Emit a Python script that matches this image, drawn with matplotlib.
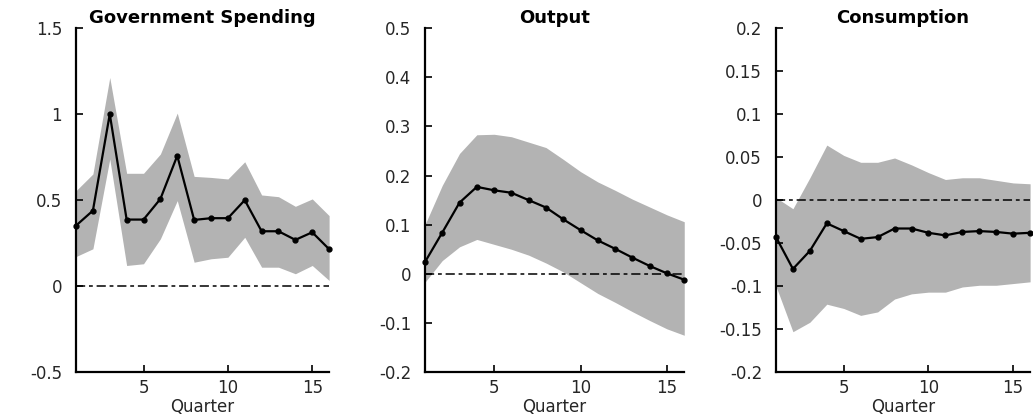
import numpy as np
import matplotlib
matplotlib.use('Agg')
import matplotlib.pyplot as plt
from matplotlib.ticker import FormatStrFormatter

## --- Data
quarters = [1, 2, 3, 4, 5, 6, 7, 8, 9, 10, 11, 12, 13, 14, 15, 16]

# Government spending
gov_mid = [0.352, 0.439, 1.000, 0.387, 0.387, 0.507, 0.758, 0.385,
           0.395, 0.395, 0.500, 0.319, 0.319, 0.269, 0.313, 0.215]
gov_hi = [0.555, 0.652, 1.213, 0.656, 0.656, 0.768, 1.006, 0.638,
          0.632, 0.623, 0.723, 0.530, 0.520, 0.464, 0.507, 0.410]
gov_lo = [0.172, 0.217, 0.739, 0.120, 0.130, 0.275, 0.497, 0.139,
          0.159, 0.168, 0.284, 0.110, 0.110, 0.072, 0.120, 0.033]

# Output
out_mid = [0.024, 0.084, 0.145, 0.177, 0.170, 0.165, 0.150, 0.135,
           0.111, 0.089, 0.068, 0.051, 0.033, 0.016, 0.001, -0.012]
out_hi = [0.100, 0.180, 0.245, 0.283, 0.284, 0.279, 0.268, 0.257,
          0.233, 0.208, 0.187, 0.170, 0.152, 0.136, 0.120, 0.106]
out_lo = [-0.017, 0.027, 0.055, 0.070, 0.060, 0.050, 0.038, 0.022,
          0.004, -0.018, -0.040, -0.058, -0.077, -0.095, -0.112, -0.125]

# Consumption
con_mid = [-0.043, -0.080, -0.059, -0.027, -0.036, -0.045, -0.043, -0.033,
           -0.033, -0.038, -0.041, -0.037, -0.036, -0.037, -0.039, -0.038]
con_hi = [0.003, -0.010, 0.026, 0.064, 0.052, 0.044, 0.044, 0.049,
          0.041, 0.032, 0.024, 0.026, 0.026, 0.023, 0.020, 0.019]
con_lo = [-0.100, -0.153, -0.142, -0.121, -0.126, -0.134, -0.130, -0.115,
          -0.109, -0.107, -0.107, -0.101, -0.099, -0.099, -0.097, -0.095]

titles = ['Government Spending', 'Output', 'Consumption']
ylims = [(-0.5, 1.5), (-0.2, 0.5), (-0.2, 0.2)]
ysteps = [0.5, 0.1, 0.05]
xticks = [5, 10, 15]

## --- Style
plt.rcParams['font.family'] = ['DejaVu Sans']
plt.rcParams['axes.unicode_minus'] = False
tick_col = '#262626'
band_col = '#b3b3b3'

fig = plt.figure(figsize=(10.33, 4.2), dpi=100)
# axes boxes in figure fractions (left, bottom, width, height)
boxes = [(0.0736, 0.114, 0.245, 0.819),
         (0.4114, 0.114, 0.251, 0.819),
         (0.7512, 0.114, 0.246, 0.819)]

panels = [(gov_mid, gov_lo, gov_hi), (out_mid, out_lo, out_hi), (con_mid, con_lo, con_hi)]

for i, (mid, lo, hi) in enumerate(panels):
    ax = fig.add_axes(boxes[i])
    ax.fill_between(quarters, lo, hi, color=band_col, linewidth=0, zorder=1)
    ax.axhline(0, color='k', linestyle=(0, (6, 2.5, 2.5, 2.5)), linewidth=1.1, zorder=2)
    ax.plot(quarters, mid, color='k', linewidth=1.6, marker='.', markersize=7, zorder=3, clip_on=False)

    ax.set_xlim(1, 16)
    ax.set_ylim(*ylims[i])
    ax.set_xticks(xticks)
    lo_y, hi_y = ylims[i]
    yt = np.round(np.arange(lo_y, hi_y + ysteps[i] / 2, ysteps[i]), 4) + 0.0
    ax.set_yticks(yt)
    ax.yaxis.set_major_formatter(FormatStrFormatter('%g'))

    for s in ['top', 'right']:
        ax.spines[s].set_visible(False)
    for s in ['left', 'bottom']:
        ax.spines[s].set_linewidth(1.6)
        ax.spines[s].set_color('k')
    ax.tick_params(direction='in', length=5, width=1.2, colors='k',
                   labelcolor=tick_col, labelsize=12)
    ax.tick_params(axis='y', pad=10)
    ax.tick_params(axis='x', pad=5)
    ax.set_xlabel('Quarter', fontsize=12, color=tick_col, labelpad=1)
    ax.set_title(titles[i], fontsize=13, fontweight='bold', pad=4)
    ax.set_facecolor('white')

plt.savefig('out.png', dpi=100)
plt.close()
